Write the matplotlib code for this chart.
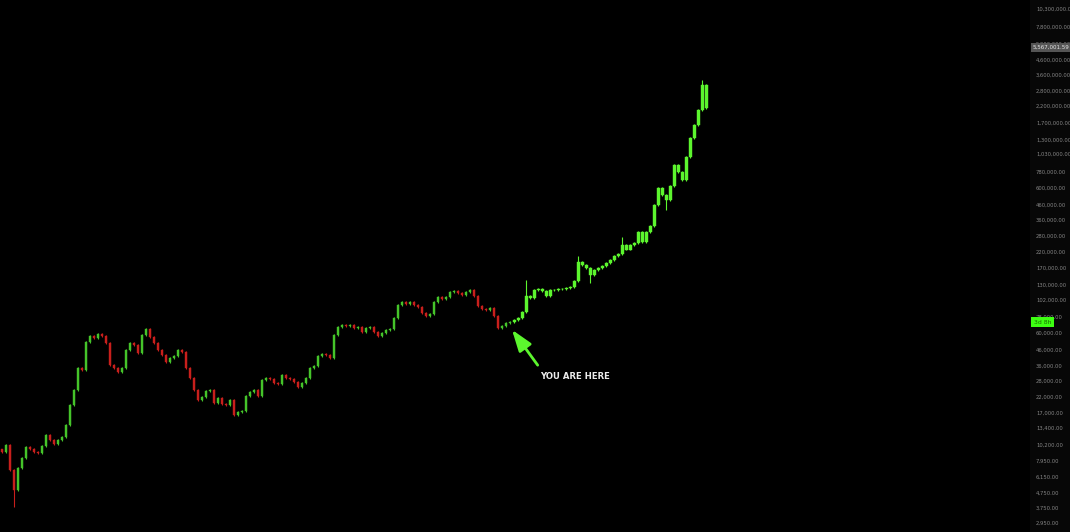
import matplotlib
matplotlib.use("Agg")
import matplotlib.pyplot as plt
import matplotlib.transforms as mtransforms
import numpy as np

# ---- data -------------------------------------------------------------
hist_close = [9100, 10180, 6840, 4980, 7055, 8270, 9860, 9550, 9100, 8960,
              10020, 11920, 11020, 10340, 11020, 11550, 13970, 19190, 24340, 34500,
              33430, 52100, 57400, 55600, 59240, 57400, 51300, 36200, 34500, 32380,
              34500, 45940, 51300, 49680, 43800, 58300, 64000, 56500, 51300, 45940,
              42400, 38100, 40450, 41750, 45940, 44500, 34500, 29430, 24340, 20770,
              21790, 23950, 24340, 19810, 21460, 19500, 19190, 20770, 16370, 17180,
              17450, 22120, 23550, 24340, 22120, 28530, 29430, 28970, 27300, 26760,
              30870, 29430, 28970, 27640, 25520, 27300, 29430, 34500, 35620, 41750,
              43100, 42400, 40450, 58300, 66100, 68250, 67150, 68250, 65000, 66100,
              61150, 65000, 66100, 61150, 57400, 60190, 63100, 64000, 76280, 93800,
              98420, 95340, 98420, 93800, 90860, 82590, 78740, 81280, 98420, 106560,
              103230, 106560, 115350, 117170, 113600, 109900, 115350, 119050, 108260, 92330,
              88020, 86340, 89430, 78740, 65000, 67150, 70450, 71560]
hist_first_open = 9500

proj_close = [73860, 76270, 83900, 108260, 104880, 119050, 120950, 117170, 108260, 119050,
              119050, 120950, 120950, 122900, 124850, 137200, 185700, 177000, 168800, 150950,
              163500, 168800, 174200, 182800, 191600, 204200, 210700, 243000, 225800, 243000,
              250900, 298600, 254900, 298600, 329300, 458500, 600000, 537000, 496000, 619400,
              864500, 772000, 681000, 982700, 1327000, 1632000, 2071000, 3077000, 2138000]

# notable wick extremes: candle index -> price
wick_high = {131: 139400, 144: 204200, 155: 275700, 175: 3330000}
wick_low = {3: 3800, 147: 133000, 166: 425000}

tick_values = [2950, 3750, 4750, 6150, 7950, 10200, 13400, 17000, 22000, 28000,
               36000, 46000, 60000, 78000, 102000, 130000, 170000, 220000, 280000,
               360000, 460000, 600000, 780000, 1030000, 1300000, 1700000, 2200000,
               2800000, 3600000, 4600000, 5900000, 7800000, 10300000]
marker_price = 5567001.59
countdown_text = "3d 8h"
annotation_text = "YOU ARE HERE"

# ---- styling -----------------------------------------------------------
UP = "#45c42a"
DOWN = "#c81f1c"
PROJ = "#5cf52e"
ARROW = "#5cf52e"
LABEL = "#858585"

W, H = 1070, 532
fig = plt.figure(figsize=(W / 100, H / 100), dpi=100, facecolor="#070707")
ax = fig.add_axes([0, 0, 1030 / W, 1])
ax.set_facecolor("#000000")
ax.set_yscale("log")

closes = hist_close + proj_close
opens = [hist_first_open] + closes[:-1]
n_hist = len(hist_close)
n = len(closes)

wf = 1.012  # small default wick extension
for i in range(n):
    o, c = opens[i], closes[i]
    lo, hi = min(o, c), max(o, c)
    high = wick_high.get(i, hi * wf)
    low = wick_low.get(i, lo / wf)
    if i < n_hist:
        col = UP if c >= o else DOWN
        bw = 0.6
    else:
        col = PROJ
        bw = 0.75
    ax.vlines(i, low, high, color=col, lw=0.8, zorder=2)
    ax.bar(i, hi - lo, bottom=lo, width=bw, color=col, edgecolor=col,
           lw=0.3, zorder=3)

# axis limits
ax.set_xlim(-0.5, 1030 / 4 - 0.5)
ax.set_ylim(2557, 11.865e6)

for s in ax.spines.values():
    s.set_visible(False)
ax.set_xticks([])
ax.yaxis.tick_right()
ax.yaxis.set_minor_locator(matplotlib.ticker.NullLocator())
ax.set_yticks(tick_values)
ax.set_yticklabels([f"{v:,.2f}" for v in tick_values])
ax.tick_params(axis="y", length=0, pad=4.3, labelsize=3.8, labelcolor=LABEL)

# right-axis markers
trans = mtransforms.blended_transform_factory(ax.transAxes, ax.transData)
ax.text(1.0 + 3 / 1030, marker_price, f"{marker_price:,.2f}", transform=trans,
        ha="left", va="center", fontsize=4.0, color="#e6e6e6", clip_on=False,
        bbox=dict(boxstyle="square,pad=0.4", fc="#555555", ec="none"), zorder=10)
ax.text(1.0 + 4 / 1030, closes[n_hist - 1], countdown_text, transform=trans,
        ha="left", va="center", fontsize=4.4, color="#176b00", clip_on=False,
        bbox=dict(boxstyle="square,pad=0.45", fc="#3dff12", ec="none"), zorder=11)

# annotation
tip = (n_hist - 0.5, closes[n_hist - 1] * 0.885)
ax.annotate("", xy=tip, xytext=(18.5, -25.5), textcoords="offset points",
            arrowprops=dict(arrowstyle="-|>,head_length=1.3,head_width=0.45",
                            color=ARROW, lw=2.0, shrinkA=0, shrinkB=0), zorder=12)
ax.annotate(annotation_text, xy=tip, xytext=(45.5, -33.5), textcoords="offset points",
            ha="center", va="center", fontsize=6.1, fontweight="bold",
            color="#ececec", zorder=12)

fig.savefig("out.png", dpi=100, facecolor=fig.get_facecolor())
